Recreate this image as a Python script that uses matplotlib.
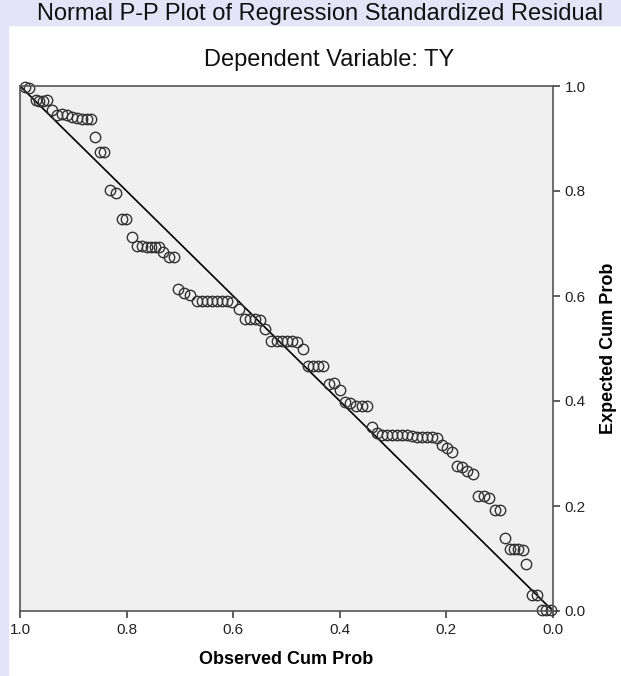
import matplotlib
matplotlib.use("Agg")
import matplotlib.pyplot as plt
from matplotlib.patches import Rectangle

# observed vs expected cumulative probability (chart is mirrored: x runs 1 -> 0)
observed = [0.991, 0.983, 0.970, 0.964, 0.957, 0.949, 0.940, 0.931, 0.921, 0.912,
            0.902, 0.893, 0.884, 0.874, 0.867, 0.859, 0.850, 0.842, 0.831, 0.820,
            0.809, 0.801, 0.790, 0.780, 0.771, 0.762, 0.754, 0.747, 0.739, 0.732,
            0.720, 0.711, 0.704, 0.692, 0.681, 0.668, 0.659, 0.649, 0.640, 0.630,
            0.621, 0.612, 0.602, 0.589, 0.578, 0.568, 0.559, 0.550, 0.540, 0.529,
            0.518, 0.508, 0.499, 0.490, 0.480, 0.469, 0.460, 0.450, 0.441, 0.432,
            0.420, 0.411, 0.400, 0.390, 0.381, 0.370, 0.358, 0.349, 0.340, 0.330,
            0.321, 0.311, 0.302, 0.293, 0.283, 0.274, 0.265, 0.255, 0.246, 0.236,
            0.227, 0.218, 0.208, 0.199, 0.189, 0.180, 0.171, 0.161, 0.150, 0.141,
            0.129, 0.120, 0.109, 0.099, 0.090, 0.081, 0.073, 0.066, 0.056, 0.051,
            0.039, 0.030, 0.021, 0.013, 0.004]
expected = [0.998, 0.996, 0.973, 0.971, 0.971, 0.973, 0.954, 0.944, 0.946, 0.944,
            0.941, 0.939, 0.937, 0.937, 0.937, 0.902, 0.874, 0.874, 0.801, 0.797,
            0.747, 0.747, 0.713, 0.695, 0.695, 0.693, 0.693, 0.693, 0.693, 0.684,
            0.674, 0.674, 0.613, 0.605, 0.602, 0.590, 0.590, 0.590, 0.590, 0.590,
            0.590, 0.590, 0.588, 0.575, 0.556, 0.556, 0.556, 0.554, 0.538, 0.515,
            0.515, 0.515, 0.515, 0.515, 0.513, 0.500, 0.467, 0.467, 0.466, 0.466,
            0.433, 0.435, 0.421, 0.398, 0.397, 0.391, 0.391, 0.391, 0.351, 0.339,
            0.335, 0.335, 0.335, 0.335, 0.335, 0.335, 0.333, 0.331, 0.331, 0.331,
            0.331, 0.330, 0.316, 0.310, 0.303, 0.276, 0.274, 0.266, 0.261, 0.220,
            0.220, 0.216, 0.193, 0.193, 0.140, 0.119, 0.119, 0.119, 0.117, 0.090,
            0.031, 0.031, 0.002, 0.002, 0.002]
ticks = [0.0, 0.2, 0.4, 0.6, 0.8, 1.0]
tick_labels = ["0.0", "0.2", "0.4", "0.6", "0.8", "1.0"]

plt.rcParams["font.family"] = ["Liberation Sans", "DejaVu Sans"]

fig = plt.figure(figsize=(6.21, 6.76), dpi=100)
fig.patch.set_facecolor("white")

# lavender band behind the title, like the page background in the original
fig.patches.append(Rectangle((0, 1 - 25 / 676), 1, 25 / 676, transform=fig.transFigure,
                             color="#e4e4f8", zorder=-1))
fig.patches.append(Rectangle((0, 0), 8 / 621, 1, transform=fig.transFigure,
                             color="#e4e4f8", zorder=-1))

ax = fig.add_axes([20 / 621, 65 / 676, 533 / 621, 525 / 676])
ax.set_facecolor("#f0f0f0")

ax.plot([0, 1], [0, 1], color="black", lw=1.2)
ax.plot(observed, expected, linestyle="none", marker="o", markersize=7.5,
        markerfacecolor="none", markeredgecolor="#333333", markeredgewidth=1.0,
        clip_on=False)

ax.set_xlim(1, 0)
ax.set_ylim(0, 1)
ax.set_xticks(ticks)
ax.set_xticklabels(tick_labels)
ax.set_yticks(ticks)
ax.set_yticklabels(tick_labels)
ax.yaxis.tick_right()
ax.yaxis.set_label_position("right")
ax.tick_params(axis="both", labelsize=11, length=5, width=1.2, color="#444444",
               labelcolor="#222222", direction="out")

for side in ["left", "right", "top", "bottom"]:
    ax.spines[side].set_color("#555555")
    ax.spines[side].set_linewidth(1.2)

ax.set_xlabel("Observed Cum Prob", fontsize=13, fontweight="bold", labelpad=10)
ax.set_ylabel("Expected Cum Prob", fontsize=13, fontweight="bold", labelpad=10,
              rotation=90)

fig.text(0.515, 1 - 14 / 676, "Normal P-P Plot of Regression Standardized Residual",
         ha="center", va="center", fontsize=17, color="#111111")
fig.text(0.53, 1 - 60 / 676, "Dependent Variable: TY",
         ha="center", va="center", fontsize=17, color="#111111")

fig.savefig("out.png", dpi=100, facecolor=fig.get_facecolor())
